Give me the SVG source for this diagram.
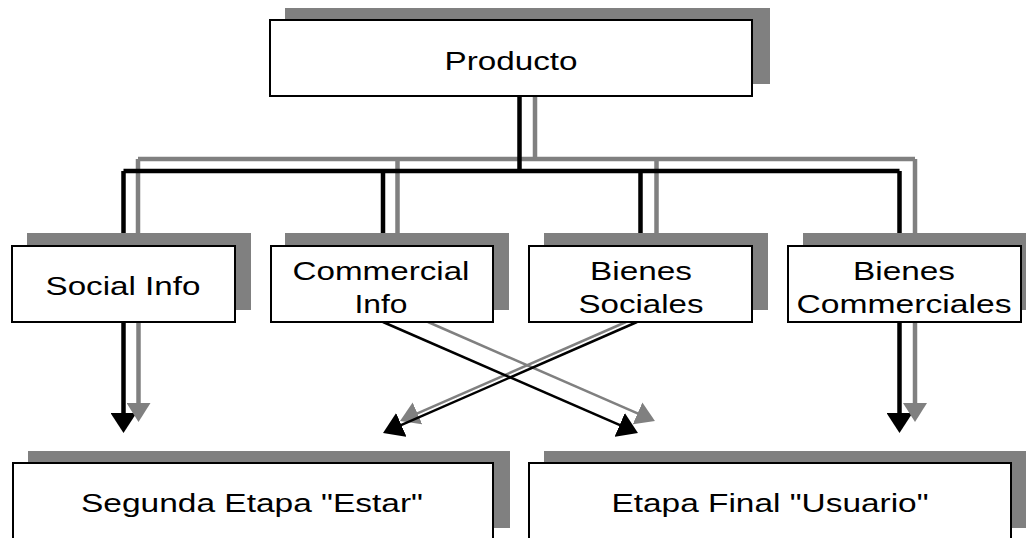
<svg xmlns="http://www.w3.org/2000/svg" width="1026" height="538" viewBox="0 0 1026 538">
<style>
.sh{fill:#808080;stroke:none}
.bx{fill:#fff;stroke:#000;stroke-width:2}
.t{font-family:"Liberation Sans",Arial,sans-serif;font-size:25px;fill:#000;text-anchor:middle}
.kb{fill:none;stroke:#000;stroke-width:4.5}
.kg{fill:none;stroke:#808080;stroke-width:4.5}
.db{fill:none;stroke:#000;stroke-width:2.5}
.dg{fill:none;stroke:#808080;stroke-width:2.5}
</style>
<defs>
<marker id="ab" markerUnits="userSpaceOnUse" viewBox="0 0 20 26" refX="16" refY="13" markerWidth="20" markerHeight="26" orient="auto"><path d="M0,0 L20,13 L0,26 z" fill="#000"/></marker>
<marker id="ag" markerUnits="userSpaceOnUse" viewBox="0 0 19 24" refX="15" refY="12" markerWidth="19" markerHeight="24" orient="auto"><path d="M0,0 L19,12 L0,24 z" fill="#808080"/></marker>
</defs>
<rect width="1026" height="538" fill="#fff"/>
<g id="connectors">
<path class="kg" d="M535,96 V159 M138,159 H915 M138,159 V246 M397.5,159 V246 M656.5,159 V246 M915,159 V246"/>
<path class="kb" d="M519.5,96 V171 M123.5,171 H899.5 M123.5,171 V246 M383,171 V246 M640.5,171 V246 M899.5,171 V246"/>
<line class="kb" x1="123.5" y1="322" x2="123.5" y2="429" marker-end="url(#ab)"/>
<line class="kg" x1="138.5" y1="322" x2="138.5" y2="418" marker-end="url(#ag)"/>
<line class="kb" x1="899.5" y1="322" x2="899.5" y2="429" marker-end="url(#ab)"/>
<line class="kg" x1="915" y1="322" x2="915" y2="418" marker-end="url(#ag)"/>
<line class="dg" x1="428" y1="322" x2="651.3" y2="419.4" marker-end="url(#ag)"/>
<line class="dg" x1="626" y1="322" x2="403.7" y2="419.4" marker-end="url(#ag)"/>
<line class="db" x1="383" y1="322" x2="634.3" y2="431.4" marker-end="url(#ab)"/>
<line class="db" x1="637" y1="322" x2="386.7" y2="431.4" marker-end="url(#ab)"/>
</g>
<g id="producto">
<rect class="sh" x="285" y="8" width="485" height="76"/>
<rect class="bx" x="270" y="20" width="482" height="76"/>
<text class="t" x="511" y="70" textLength="133" lengthAdjust="spacingAndGlyphs">Producto</text>
</g>
<g id="social-info">
<rect class="sh" x="27" y="233" width="224" height="77"/>
<rect class="bx" x="12" y="246" width="223" height="76"/>
<text class="t" x="123" y="295" textLength="155" lengthAdjust="spacingAndGlyphs">Social Info</text>
</g>
<g id="commercial-info">
<rect class="sh" x="285" y="233" width="224" height="77"/>
<rect class="bx" x="271" y="246" width="222" height="76"/>
<text class="t" x="381" y="280" textLength="177" lengthAdjust="spacingAndGlyphs">Commercial</text>
<text class="t" x="381" y="313" textLength="53" lengthAdjust="spacingAndGlyphs">Info</text>
</g>
<g id="bienes-sociales">
<rect class="sh" x="544" y="233" width="224" height="77"/>
<rect class="bx" x="529" y="246" width="223" height="76"/>
<text class="t" x="641" y="280" textLength="102" lengthAdjust="spacingAndGlyphs">Bienes</text>
<text class="t" x="641" y="313" textLength="125" lengthAdjust="spacingAndGlyphs">Sociales</text>
</g>
<g id="bienes-commerciales">
<rect class="sh" x="803" y="233" width="224" height="77"/>
<rect class="bx" x="788" y="246" width="233" height="76"/>
<text class="t" x="904" y="280" textLength="102" lengthAdjust="spacingAndGlyphs">Bienes</text>
<text class="t" x="904" y="313" textLength="215" lengthAdjust="spacingAndGlyphs">Commerciales</text>
</g>
<g id="segunda-etapa">
<rect class="sh" x="28" y="451" width="482" height="77"/>
<rect class="bx" x="13" y="463" width="480" height="80"/>
<text class="t" x="252" y="512" textLength="342" lengthAdjust="spacingAndGlyphs">Segunda Etapa "Estar"</text>
</g>
<g id="etapa-final">
<rect class="sh" x="544" y="451" width="484" height="77"/>
<rect class="bx" x="529" y="463" width="482" height="80"/>
<text class="t" x="770" y="512" textLength="317" lengthAdjust="spacingAndGlyphs">Etapa Final "Usuario"</text>
</g>
</svg>
